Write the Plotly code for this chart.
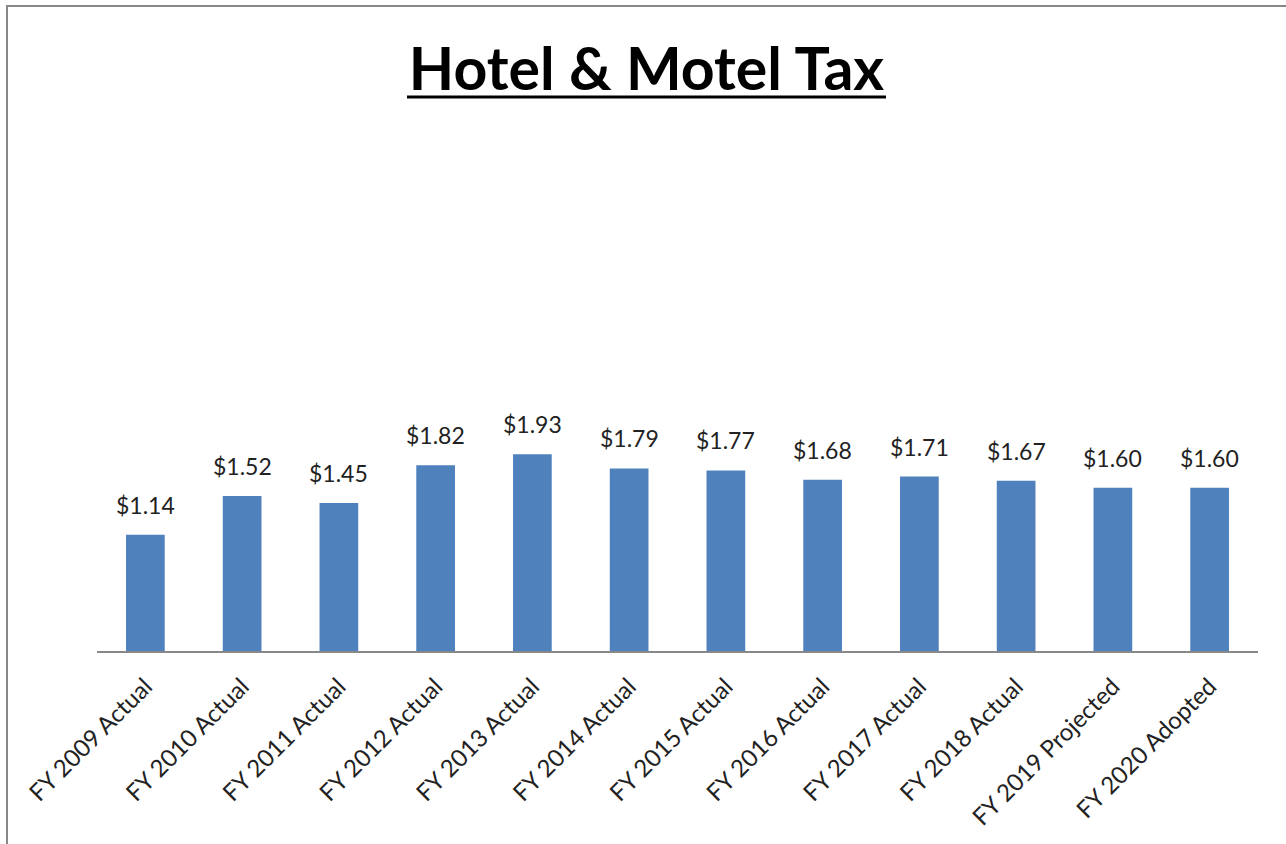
import plotly.graph_objects as go

categories = ["FY 2009 Actual", "FY 2010 Actual", "FY 2011 Actual", "FY 2012 Actual",
              "FY 2013 Actual", "FY 2014 Actual", "FY 2015 Actual", "FY 2016 Actual",
              "FY 2017 Actual", "FY 2018 Actual", "FY 2019 Projected", "FY 2020 Adopted"]
values = [1.14, 1.52, 1.45, 1.82, 1.93, 1.79, 1.77, 1.68, 1.71, 1.67, 1.60, 1.60]
labels = ["$%.2f" % v for v in values]

W, H = 1286, 844
# plot area in page pixels: x 97..1258, y 141..651
ML, MT = 97, 141
MR = W - 1258
MB = H - 651
PW, PH = W - ML - MR, H - MT - MB

def px_x(p):
    return (p - ML) / PW

def px_y(p):
    return (H - MB - p) / PH

FONT = "Lato, 'Open Sans', sans-serif"

fig = go.Figure()
fig.add_trace(go.Bar(x=categories, y=values, width=0.4,
                     marker=dict(color="#4F81BD", line=dict(width=0)),
                     hoverinfo="skip"))

for c, v, t in zip(categories, values, labels):
    fig.add_annotation(x=c, y=v, text=t, showarrow=False, yanchor="bottom",
                       yshift=14, font=dict(family=FONT, size=23, color="#222222"))

shapes = [
    dict(type="rect", xref="paper", yref="paper",
         x0=px_x(7), x1=px_x(1300), y0=px_y(900), y1=px_y(6),
         line=dict(color="#888888", width=2), fillcolor="rgba(0,0,0,0)", layer="below"),
    dict(type="line", xref="paper", yref="paper",
         x0=px_x(407), x1=px_x(886), y0=px_y(97), y1=px_y(97),
         line=dict(color="#000000", width=3)),
]

fig.update_layout(
    width=W, height=H,
    margin=dict(l=ML, r=MR, t=MT, b=MB),
    paper_bgcolor="white", plot_bgcolor="white",
    showlegend=False,
    shapes=shapes,
    title=dict(text="<b>Hotel & Motel Tax</b>", x=646.5 / W, xanchor="center",
               y=1 - 69 / H, yanchor="middle", yref="container",
               font=dict(family=FONT, size=59, color="#000000")),
    xaxis=dict(showgrid=False, showline=True, linecolor="#888888", linewidth=2,
               ticks="", tickangle=-45, ticklabelstandoff=10,
               tickfont=dict(family=FONT, size=24, color="#222222")),
    yaxis=dict(range=[0, 5], visible=False, showgrid=False, zeroline=False),
)

fig.write_html("out.html", config={"displayModeBar": False},
               post_script="document.body.style.margin='0px';document.body.style.overflow='hidden';")
